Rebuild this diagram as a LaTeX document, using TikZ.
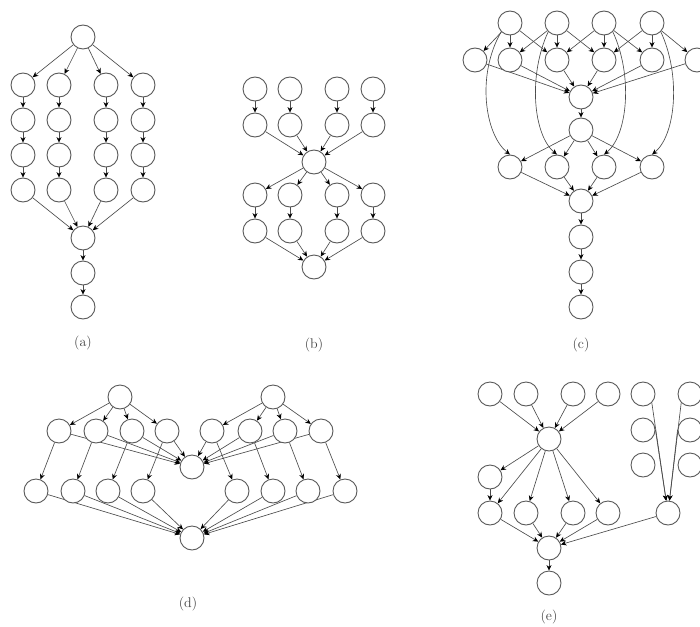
\documentclass[tikz,border=0pt]{standalone}
\usetikzlibrary{arrows.meta}
\pgfdeclarelayer{bg}
\pgfsetlayers{bg,main}
\begin{document}
\begin{tikzpicture}[x=1pt,y=-1pt,
  v/.style={circle,draw=black!65,line width=0.9pt,minimum size=24pt,inner sep=0pt,fill=white},
  e/.style={draw=black!70,line width=0.65pt,-{Stealth[length=5.5pt,width=5pt,black]}},
  lbl/.style={font=\fontsize{14}{17}\selectfont,text=black!75}]
\useasboundingbox (0,0) rectangle (700,626);
\clip (0,0) rectangle (700,626);

% ---------- (a) ----------
\node[v] (a0) at (83,37) {};
\foreach \x [count=\i] in {23,59,106,143}
  \foreach \y [count=\j] in {85,120,155,190}
    \node[v] (a\i\j) at (\x,\y) {};
\node[v] (a5) at (83,238) {};
\node[v] (a6) at (83,273) {};
\node[v] (a7) at (83,307) {};
\node[lbl] (la) at (83,343) {(a)};
\begin{pgfonlayer}{bg}
\foreach \i in {1,...,4} {
  \draw[e] (a0) -- (a\i1);
  \draw[e] (a\i1) -- (a\i2);
  \draw[e] (a\i2) -- (a\i3);
  \draw[e] (a\i3) -- (a\i4);
  \draw[e] (a\i4) -- (a5);
}
\draw[e] (a5) -- (a6);
\draw[e] (a6) -- (a7);
\end{pgfonlayer}

% ---------- (b) ----------
\foreach \x [count=\i] in {255,290,337,373} {
  \node[v] (b1\i) at (\x,89) {};
  \node[v] (b2\i) at (\x,125) {};
  \node[v] (b3\i) at (\x,195) {};
  \node[v] (b4\i) at (\x,231) {};
}
\node[v] (bm) at (314,162) {};
\node[v] (bb) at (314,267) {};
\node[lbl] (lb) at (314,345) {(b)};
\begin{pgfonlayer}{bg}
\foreach \i in {1,...,4} {
  \draw[e] (b1\i) -- (b2\i);
  \draw[e] (b2\i) -- (bm);
  \draw[e] (bm) -- (b3\i);
  \draw[e] (b3\i) -- (b4\i);
  \draw[e] (b4\i) -- (bb);
}
\end{pgfonlayer}

% ---------- (c) ----------
\foreach \x [count=\i] in {510,557,604,652} {
  \node[v] (ct\i) at (\x,23) {};
  \node[v] (cs\i) at (\x,167) {};
}
\foreach \x [count=\i from 0] in {475,510,557,604,652,697}
  \node[v] (cr\i) at (\x,60) {};
\node[v] (cm1) at (581,97) {};
\node[v] (cm2) at (581,130) {};
\node[v] (cc1) at (581,201) {};
\node[v] (cc2) at (581,237) {};
\node[v] (cc3) at (581,272) {};
\node[v] (cc4) at (581,307) {};
\node[lbl] (lc) at (581,345) {(c)};
\begin{pgfonlayer}{bg}
\foreach \i in {1,...,4} {
  \pgfmathtruncatemacro\ilo{\i-1}
  \pgfmathtruncatemacro\ihi{\i+1}
  \draw[e] (ct\i) -- (cr\ilo);
  \draw[e] (ct\i) -- (cr\i);
  \draw[e] (ct\i) -- (cr\ihi);
  \draw[e] (cm2) -- (cs\i);
  \draw[e] (cs\i) -- (cc1);
}
\foreach \i in {0,...,5}
  \draw[e] (cr\i) -- (cm1);
\draw[e] (cm1) -- (cm2);
\draw[e] (cc1) -- (cc2);
\draw[e] (cc2) -- (cc3);
\draw[e] (cc3) -- (cc4);
\end{pgfonlayer}
% long links from the top row down to the lower row
\draw[e] (ct1.south west) .. controls (476,75) and (485,135) .. (cs1.north);
\draw[e] (ct2.south west) .. controls (528,75) and (533,135) .. (cs2.north);
\draw[e] (ct3.south east) .. controls (633,75) and (628,135) .. (cs3.north);
\draw[e] (ct4.south east) .. controls (681,75) and (676,135) .. (cs4.north);

% ---------- (d) ----------
\node[v] (dt1) at (120,397) {};
\node[v] (dt2) at (273,397) {};
\foreach \x [count=\i] in {59,96,132,167,212,250,285,321}
  \node[v] (du\i) at (\x,431) {};
\foreach \x [count=\i] in {36,73,108,143,237,273,308,345}
  \node[v] (dl\i) at (\x,491) {};
\node[v] (dm) at (192,467) {};
\node[v] (db) at (192,538) {};
\node[lbl] (ld) at (188,604) {(d)};
\begin{pgfonlayer}{bg}
\foreach \i in {1,...,4}
  \draw[e] (dt1) -- (du\i);
\foreach \i in {5,...,8}
  \draw[e] (dt2) -- (du\i);
\foreach \i in {1,...,8} {
  \draw[e] (du\i) -- (dm);
  \draw[e] (du\i) -- (dl\i);
  \draw[e] (dl\i) -- (db);
}
\end{pgfonlayer}

% ---------- (e) ----------
\foreach \x [count=\i] in {490,526,573,608} {
  \node[v] (et\i) at (\x,394) {};
  \node[v] (er\i) at (\x,513) {};
}
\node[v] (eg1) at (643,394) {};
\node[v] (eg2) at (643,430) {};
\node[v] (eg3) at (643,465) {};
\node[v] (ek1) at (690,394) {};
\node[v] (ek2) at (690,430) {};
\node[v] (ek3) at (690,465) {};
\node[v] (ehub) at (549,439) {};
\node[v] (ex) at (490,477) {};
\node[v] (ey) at (668,513) {};
\node[v] (em) at (549,548) {};
\node[v] (eb) at (549,583) {};
\node[lbl] (le) at (549,617) {(e)};
\begin{pgfonlayer}{bg}
\foreach \i in {1,...,4} {
  \draw[e] (et\i) -- (ehub);
  \draw[e] (ehub) -- (er\i);
  \draw[e] (er\i) -- (em);
}
\draw[e] (ehub) -- (ex);
\draw[e] (ex) -- (er1);
\draw[e] (ey) -- (em);
\draw[e] (em) -- (eb);
\draw[e] (eg1.south east) -- (ey);
\draw[e] (eg2.east) -- (ey);
\draw[e] (ek1.south west) -- (ey);
\draw[e] (ek2.west) -- (ey);
\end{pgfonlayer}
\end{tikzpicture}
\end{document}
